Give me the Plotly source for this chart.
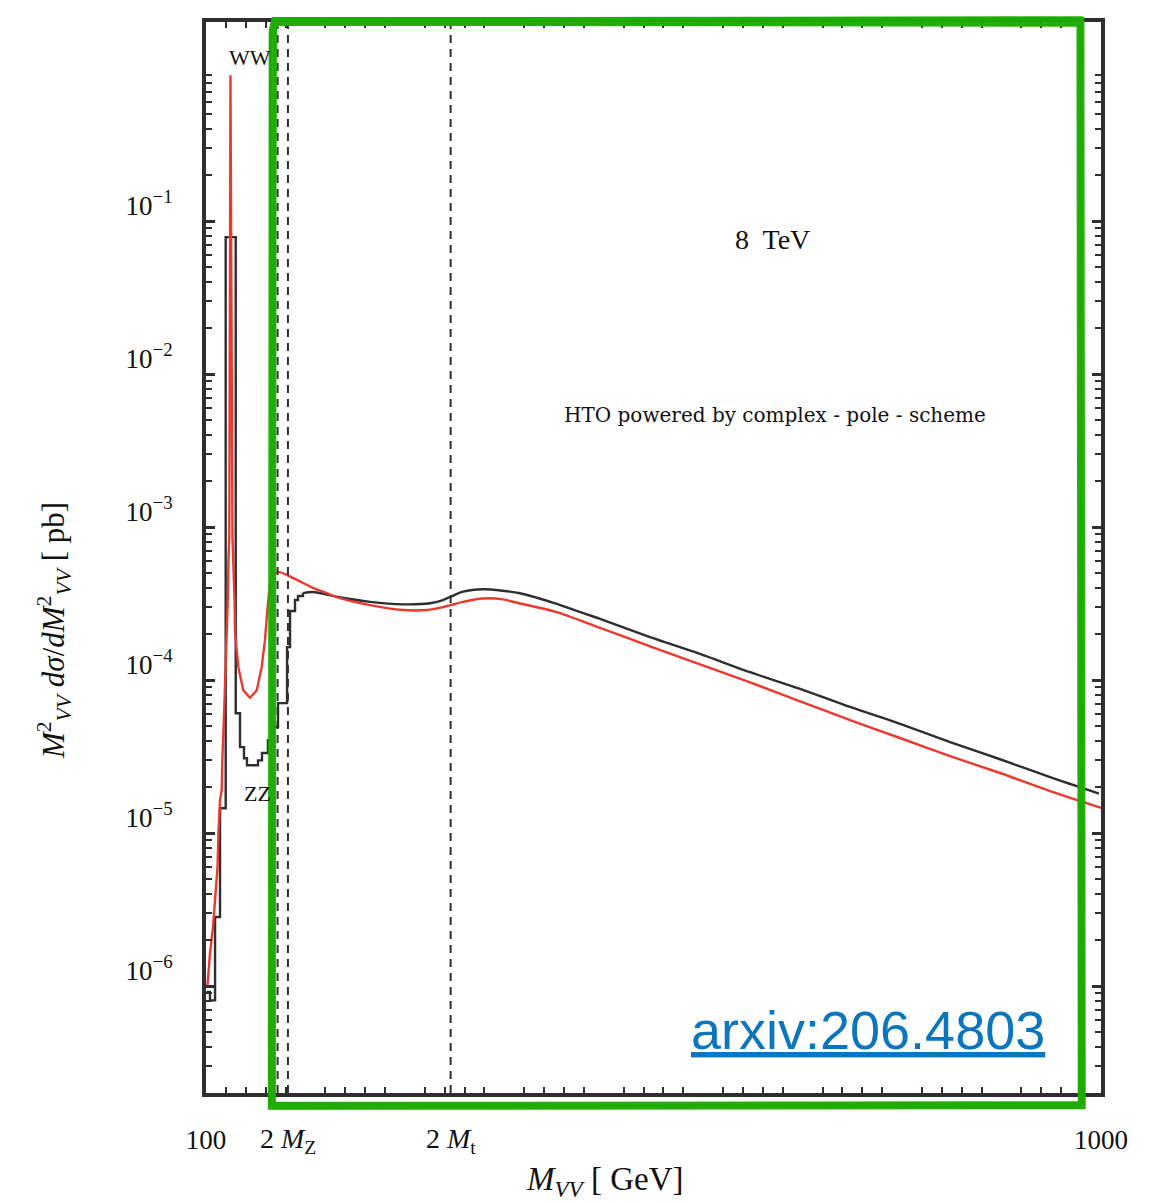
import plotly.graph_objects as go

# ---- data (M_VV in GeV, M^2 dsigma/dM^2 in pb) ----
ww_mass = [101.5, 104.0, 107.0, 109.1, 111.6, 112.6, 114.1, 115.8, 116.4, 118.4,
           120.8, 122.1, 122.6, 123.4, 124.6, 126.6, 128.7, 129.2, 132.5, 137.5,
           144.2, 151.0, 156.0, 159.3, 162.7, 166.1, 172.7, 187.8, 197.5, 207.9,
           221.4, 231.4, 264.9, 298.1, 322.2, 338.3, 345.9, 358.5, 378.6, 398.7,
           415.8, 451.0, 496.2, 546.5, 596.8, 647.1, 697.4, 747.6, 797.9, 848.2,
           898.5, 948.8, 1000.0]
ww_value = [1.02e-6, 1.65e-6, 2.44e-6, 3.67e-6, 6.0e-6, 1.05e-5, 1.65e-5, 1.92e-5, 3.0e-5, 6.7e-5,
            1.75e-4, 3.7e-4, 6.1e-4, 8.6e-4, 0.90, 8.6e-4, 3.35e-4, 2.04e-4, 1.22e-4, 8.6e-5,
            7.7e-5, 8.6e-5, 1.22e-4, 1.83e-4, 3.35e-4, 4.73e-4, 5.1e-4, 4.66e-4, 4.33e-4, 4.01e-4,
            3.72e-4, 3.5e-4, 3.1e-4, 2.88e-4, 2.88e-4, 3.01e-4, 3.1e-4, 3.26e-4, 3.43e-4, 3.38e-4,
            3.18e-4, 2.81e-4, 2.20e-4, 1.67e-4, 1.27e-4, 9.7e-5, 7.3e-5, 5.5e-5, 4.2e-5, 3.2e-5,
            2.48e-5, 1.89e-5, 1.47e-5]

zz_mass = [100.5, 104.0, 104.0, 109.1, 109.1, 114.1, 114.1, 119.8, 119.8, 129.9,
           129.9, 134.2, 134.2, 138.2, 138.2, 141.2, 141.2, 152.3, 152.3, 156.3,
           156.3, 162.3, 162.3, 167.4, 167.4, 172.4, 172.4, 181.5, 181.5, 184.5,
           184.5, 189.5, 189.5, 192.5, 192.5, 197.5, 197.5, 207.6, 231.4, 264.9,
           298.1, 325.3, 338.3, 345.9, 358.5, 378.6, 398.7, 415.8, 451.0, 496.2,
           546.5, 596.8, 647.1, 697.4, 747.6, 797.9, 848.2, 898.5, 948.8, 998.0]
zz_value = [9.2e-7, 9.2e-7, 8.1e-7, 8.1e-7, 2.84e-6, 2.84e-6, 1.46e-5, 1.46e-5, 0.0789, 0.0789,
            6.1e-5, 6.1e-5, 3.66e-5, 3.66e-5, 3.1e-5, 3.1e-5, 2.79e-5, 2.79e-5, 3.0e-5, 3.0e-5,
            3.35e-5, 3.35e-5, 4.07e-5, 4.07e-5, 4.96e-5, 4.96e-5, 7.1e-5, 7.1e-5, 1.65e-4, 1.65e-4,
            2.84e-4, 2.84e-4, 3.35e-4, 3.35e-4, 3.56e-4, 3.56e-4, 3.72e-4, 3.78e-4, 3.52e-4, 3.26e-4,
            3.14e-4, 3.19e-4, 3.35e-4, 3.52e-4, 3.8e-4, 3.94e-4, 3.85e-4, 3.71e-4, 3.19e-4, 2.52e-4,
            1.92e-4, 1.49e-4, 1.13e-4, 8.8e-5, 6.7e-5, 5.2e-5, 3.95e-5, 3.05e-5, 2.33e-5, 1.82e-5]

thresholds = [172.0, 182.4, 346.0]          # dashed vertical lines
threshold_labels = {182.4: "2 <i>M</i><sub>Z</sub>", 346.0: "2 <i>M</i><sub>t</sub>"}

x_label_vals = [100, 1000]
x_label_text = ["100", "1000"]
x_unlabelled_major = [200, 300, 400, 500, 600, 700, 800, 900]
y_label_vals = [1e-1, 1e-2, 1e-3, 1e-4, 1e-5, 1e-6]
y_label_text = ["10<sup>\u22121</sup>", "10<sup>\u22122</sup>", "10<sup>\u22123</sup>",
                "10<sup>\u22124</sup>", "10<sup>\u22125</sup>", "10<sup>\u22126</sup>"]
y_unlabelled_major = [1]

# ---- figure ----
INK = "#2e2e30"
RED = "#ea3a2f"
SERIF = "Liberation Serif, DejaVu Serif, serif"
X_RANGE = [100, 1000]
Y_RANGE = [-6.697, 0.303]

x_minor = [v for v in range(120, 1000, 20) if v % 100 != 0]
y_minor = []
for e in range(-7, 1):
    for k in range(2, 10):
        y_minor.append(k * 10.0 ** e)

# the sharp resonance / step part is drawn straight, the smooth continuum as a spline
ww_split = ww_mass.index(159.3)
zz_split = zz_mass.index(207.6) - 1

fig = go.Figure()
fig.add_trace(go.Scatter(x=zz_mass[:zz_split + 1], y=zz_value[:zz_split + 1], mode="lines",
                         line=dict(color=INK, width=2.4), showlegend=False))
fig.add_trace(go.Scatter(x=zz_mass[zz_split:], y=zz_value[zz_split:], mode="lines",
                         line=dict(color=INK, width=2.4, shape="spline", smoothing=0.8),
                         showlegend=False))
fig.add_trace(go.Scatter(x=ww_mass[:ww_split + 1], y=ww_value[:ww_split + 1], mode="lines",
                         line=dict(color=RED, width=2.4), showlegend=False))
fig.add_trace(go.Scatter(x=ww_mass[ww_split:], y=ww_value[ww_split:], mode="lines",
                         line=dict(color=RED, width=2.4, shape="spline", smoothing=0.8),
                         showlegend=False))

for t in thresholds:
    fig.add_shape(type="line", xref="x", yref="paper", x0=t, x1=t, y0=0, y1=1,
                  line=dict(color=INK, width=2, dash="8px,6px"))

tick_common = dict(ticks="inside", tickcolor=INK, tickwidth=2.5, ticklen=9,
                   mirror="allticks", showgrid=False, zeroline=False)
minor_common = dict(tickmode="array", ticks="inside", ticklen=6, tickwidth=2,
                    tickcolor=INK, showgrid=False)

fig.update_layout(
    xaxis=dict(type="linear", range=X_RANGE, tickmode="array",
               tickvals=x_label_vals, ticktext=x_label_text, ticklabelstandoff=20,
               showline=True, linewidth=4, linecolor=INK,
               tickfont=dict(family=SERIF, size=27, color="#111"),
               minor=dict(tickvals=x_minor, **minor_common), **tick_common),
    yaxis=dict(type="log", range=Y_RANGE, tickmode="array",
               tickvals=y_label_vals, ticktext=y_label_text, ticklabelstandoff=24,
               ticklabelshift=-16,
               showline=True, linewidth=4, linecolor=INK,
               tickfont=dict(family=SERIF, size=27, color="#111"),
               minor=dict(tickvals=y_minor, **minor_common), **tick_common),
    xaxis2=dict(type="linear", range=X_RANGE, overlaying="x", anchor="y", side="bottom",
                tickmode="array", tickvals=x_unlabelled_major, showticklabels=False,
                showline=False, **tick_common),
    yaxis2=dict(type="log", range=Y_RANGE, overlaying="y", anchor="x", side="left",
                tickmode="array", tickvals=y_unlabelled_major, showticklabels=False,
                showline=False, **tick_common),
)

for t, lab in threshold_labels.items():
    fig.add_annotation(x=t, xref="x", y=-0.0439, yref="paper", text=lab,
                       showarrow=False, font=dict(family=SERIF, size=28, color="#111"),
                       xanchor="center", yanchor="middle")

texts = [
    ("WW", 0.049, 0.967, 22, SERIF),
    ("ZZ", 0.058, 0.280, 22, SERIF),
    ("8  TeV", 0.6335, 0.7965, 28, SERIF),
    ("HTO powered by complex - pole - scheme", 0.6358, 0.633, 20, "DejaVu Serif, serif"),
]
for txt, xp, yp, sz, fam in texts:
    fig.add_annotation(x=xp, y=yp, xref="paper", yref="paper", text=txt, showarrow=False,
                       font=dict(family=fam, size=sz, color="#111"),
                       xanchor="center", yanchor="middle")

# axis titles
fig.add_annotation(x=0.446, y=-0.083, xref="paper", yref="paper",
                   text="<i>M</i><sub><i>VV</i></sub> [ GeV]", showarrow=False,
                   font=dict(family=SERIF, size=33, color="#111"),
                   xanchor="center", yanchor="middle")
fig.add_annotation(x=-0.169, y=0.432, xref="paper", yref="paper", textangle=-90,
                   text="<i>M</i><sup>2</sup><sub><i>VV</i></sub> <i>d\u03c3</i>/<i>dM</i><sup>2</sup><sub><i>VV</i></sub> [ pb]",
                   showarrow=False, font=dict(family=SERIF, size=31, color="#111"),
                   xanchor="center", yanchor="middle")

# arxiv link text
fig.add_annotation(x=0.7397, y=0.0588, xref="paper", yref="paper",
                   text="<u>arxiv:206.4803</u>", showarrow=False,
                   font=dict(family="Liberation Sans, Arial, sans-serif", size=54, color="#0b76bd"),
                   xanchor="center", yanchor="middle")

# hand-drawn green box
GREEN = "rgba(30,172,0,0.95)"
strokes = [
    ("M 0.0745,0.992 L 0.0770,1.001 L 0.9770,1.001 L 0.9785,-0.0115 L 0.0735,-0.0120 Z", 8),
    ("M 0.0720,0.985 L 0.0760,0.998 L 0.9760,0.997 L 0.9800,-0.0095 L 0.0760,-0.0140 Z", 3),
    ("M 0.0775,0.990 L 0.0800,1.003 L 0.9780,1.004 L 0.9760,-0.0135 L 0.0715,-0.0100 Z", 3),
]
for path, w in strokes:
    fig.add_shape(type="path", xref="paper", yref="paper", path=path,
                  line=dict(color=GREEN, width=w), layer="above")

fig.update_layout(width=1157, height=1203,
                  margin=dict(l=206, r=56, t=22, b=110, pad=0),
                  plot_bgcolor="white", paper_bgcolor="white", showlegend=False)

fig.write_html("out.html", config={"displayModeBar": False},
               post_script="document.body.style.margin='0px';")
